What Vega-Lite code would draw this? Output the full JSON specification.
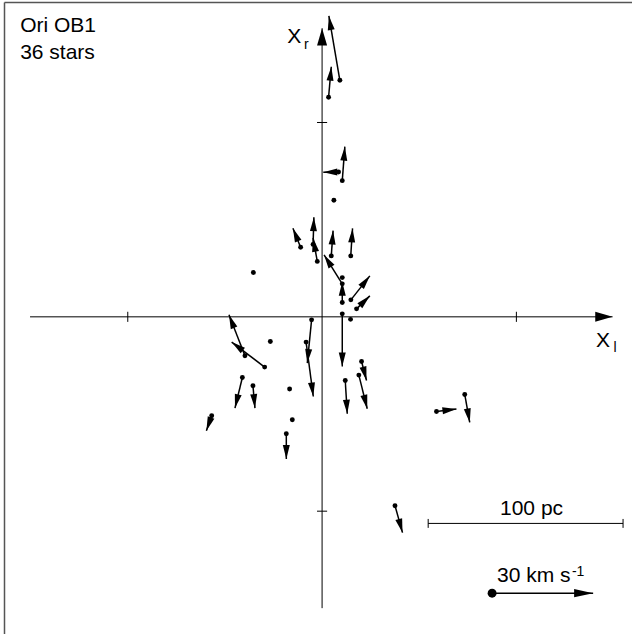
{
  "$schema": "https://vega.github.io/schema/vega-lite/v6.json",
  "width": 628,
  "height": 632,
  "autosize": {"type": "none"},
  "padding": {"left": 4, "top": 2, "right": 0, "bottom": 0},
  "background": "white",
  "config": {"view": {"stroke": null}, "font": "Liberation Sans"},
  "datasets": {
    "stars": [
      {"x": 9.15, "y": 121.7, "ex": 3.5, "ey": 154.8},
      {"x": 3.34, "y": 112.96, "ex": 4.73, "ey": 128.7},
      {"x": 8.48, "y": 74.55, "ex": 0.62, "ey": 74.4},
      {"x": 10.39, "y": 70.08, "ex": 11.72, "ey": 87.56},
      {"x": 6.07, "y": 60.0, "ex": null, "ey": null},
      {"x": -11.05, "y": 35.84, "ex": -15.01, "ey": 45.6},
      {"x": -4.63, "y": 37.28, "ex": -4.22, "ey": 51.26},
      {"x": -2.47, "y": 28.53, "ex": -4.63, "ey": 40.6},
      {"x": 4.73, "y": 31.36, "ex": 5.66, "ey": 44.37},
      {"x": 14.76, "y": 31.36, "ex": 15.68, "ey": 45.5},
      {"x": -35.37, "y": 22.78, "ex": null, "ey": null},
      {"x": 14.81, "y": 8.74, "ex": 24.58, "ey": 21.08},
      {"x": 17.74, "y": 4.11, "ex": 24.58, "ey": 10.8},
      {"x": 14.65, "y": -1.29, "ex": null, "ey": null},
      {"x": -5.4, "y": -1.54, "ex": -7.61, "ey": -23.8},
      {"x": -8.23, "y": -13.0, "ex": -4.52, "ey": -40.98},
      {"x": -16.71, "y": -37.17, "ex": null, "ey": null},
      {"x": -15.32, "y": -52.96, "ex": null, "ey": null},
      {"x": -18.41, "y": -60.15, "ex": -18.41, "ey": -73.16},
      {"x": 20.31, "y": -22.98, "ex": 22.88, "ey": -32.75},
      {"x": 18.92, "y": -29.97, "ex": 23.24, "ey": -47.3},
      {"x": 11.93, "y": -32.75, "ex": 12.96, "ey": -49.87},
      {"x": 10.39, "y": 1.54, "ex": 10.39, "ey": -25.55},
      {"x": -39.69, "y": -20.05, "ex": -47.92, "ey": 1.03},
      {"x": -29.56, "y": -25.86, "ex": -46.53, "ey": -13.0},
      {"x": -26.63, "y": -12.7, "ex": null, "ey": null},
      {"x": -41.03, "y": -31.21, "ex": -44.83, "ey": -46.94},
      {"x": -35.58, "y": -35.48, "ex": -34.55, "ey": -46.94},
      {"x": -56.81, "y": -50.9, "ex": -59.54, "ey": -58.61},
      {"x": 58.87, "y": -48.69, "ex": 69.15, "ey": -47.46},
      {"x": 73.42, "y": -39.95, "ex": 75.99, "ey": -54.34},
      {"x": 37.53, "y": -97.17, "ex": 41.39, "ey": -111.05},
      {"x": 10.39, "y": 16.97, "ex": 1.03, "ey": 31.88},
      {"x": 10.39, "y": 7.35, "ex": 10.39, "ey": 18.0},
      {"x": 10.39, "y": 20.2, "ex": null, "ey": null}
    ],
    "axislines": [
      {"x": -150.3, "y": 0, "ex": 149.5, "ey": 0},
      {"x": 0, "y": -149.9, "ex": 0, "ey": 148.5}
    ],
    "ticks": [
      {"x": -100, "y": -2.6, "ex": -100, "ey": 2.6},
      {"x": 100, "y": -2.6, "ex": 100, "ey": 2.6},
      {"x": -2.6, "y": 100, "ex": 2.6, "ey": 100},
      {"x": -2.6, "y": -100, "ex": 2.6, "ey": -100}
    ],
    "scalebar": [
      {"x": 54.6, "y": -106.3, "ex": 154.9, "ey": -106.3},
      {"x": 54.6, "y": -104.0, "ex": 54.6, "ey": -108.6},
      {"x": 154.9, "y": -104.0, "ex": 154.9, "ey": -108.6}
    ],
    "legend": [
      {"x": 87.5, "y": -142.2, "ex": 139.5, "ey": -142.2}
    ],
    "bigtext": [
      {"label": "Ori OB1", "x": -155.4, "y": 146.6},
      {"label": "36 stars", "x": -155.4, "y": 132.7},
      {"label": "X", "x": -17.9, "y": 140.8},
      {"label": "X", "x": 141.0, "y": -15.5},
      {"label": "30 km s", "x": 90.0, "y": -136.3}
    ],
    "midtext": [
      {"label": "100 pc", "x": 107.8, "y": -102.2}
    ],
    "smalltext": [
      {"label": "r", "x": -9.3, "y": 137.8},
      {"label": "l", "x": 150.0, "y": -18.1},
      {"label": "-1", "x": 128.6, "y": -133.6}
    ]
  },
  "encoding": {
    "x": {"field": "x", "type": "quantitative", "scale": {"domain": [-163.7, 159.5], "nice": false, "zero": false}},
    "y": {"field": "y", "type": "quantitative", "scale": {"domain": [-163.2, 162.0], "nice": false, "zero": false}}
  },
  "layer": [
    {
      "data": {"name": "axislines"},
      "mark": {"type": "rule", "color": "black", "strokeWidth": 1},
      "encoding": {
        "x": {"field": "x", "type": "quantitative", "axis": {"orient": "top", "domain": true, "domainColor": "#555555", "domainWidth": 1.5, "ticks": false, "labels": false, "grid": false, "title": null}},
        "y": {"field": "y", "type": "quantitative", "axis": {"orient": "left", "domain": true, "domainColor": "#555555", "domainWidth": 1.5, "ticks": false, "labels": false, "grid": false, "title": null}},
        "x2": {"field": "ex"},
        "y2": {"field": "ey"}
      }
    },
    {
      "data": {"name": "axislines"},
      "transform": [{"calculate": "atan2(datum.ex - datum.x, datum.ey - datum.y) * 180 / PI", "as": "ang"}],
      "mark": {"type": "point", "shape": "M0,0L0.58,2L-0.58,2Z", "filled": true, "opacity": 1, "color": "black", "size": 300},
      "encoding": {
        "x": {"field": "ex", "type": "quantitative"},
        "y": {"field": "ey", "type": "quantitative"},
        "angle": {"field": "ang", "type": "quantitative", "scale": null}
      }
    },
    {
      "data": {"name": "ticks"},
      "mark": {"type": "rule", "color": "black", "strokeWidth": 1},
      "encoding": {"x2": {"field": "ex"}, "y2": {"field": "ey"}}
    },
    {
      "data": {"name": "stars"},
      "transform": [{"filter": "isValid(datum.ex)"}],
      "mark": {"type": "rule", "color": "black", "strokeWidth": 1.5},
      "encoding": {"x2": {"field": "ex"}, "y2": {"field": "ey"}}
    },
    {
      "data": {"name": "stars"},
      "transform": [
        {"filter": "isValid(datum.ex)"},
        {"calculate": "atan2(datum.ex - datum.x, datum.ey - datum.y) * 180 / PI", "as": "ang"}
      ],
      "mark": {"type": "point", "shape": "M0,0L0.5,2L-0.5,2Z", "filled": true, "opacity": 1, "color": "black", "size": 196},
      "encoding": {
        "x": {"field": "ex", "type": "quantitative"},
        "y": {"field": "ey", "type": "quantitative"},
        "angle": {"field": "ang", "type": "quantitative", "scale": null}
      }
    },
    {
      "data": {"name": "stars"},
      "mark": {"type": "circle", "color": "black", "opacity": 1, "size": 24}
    },
    {
      "data": {"name": "scalebar"},
      "mark": {"type": "rule", "color": "black", "strokeWidth": 1},
      "encoding": {"x2": {"field": "ex"}, "y2": {"field": "ey"}}
    },
    {
      "data": {"name": "legend"},
      "mark": {"type": "rule", "color": "black", "strokeWidth": 1.6},
      "encoding": {"x2": {"field": "ex"}, "y2": {"field": "ey"}}
    },
    {
      "data": {"name": "legend"},
      "transform": [{"calculate": "atan2(datum.ex - datum.x, datum.ey - datum.y) * 180 / PI", "as": "ang"}],
      "mark": {"type": "point", "shape": "M0,0L0.44,2L-0.44,2Z", "filled": true, "opacity": 1, "color": "black", "size": 361},
      "encoding": {
        "x": {"field": "ex", "type": "quantitative"},
        "y": {"field": "ey", "type": "quantitative"},
        "angle": {"field": "ang", "type": "quantitative", "scale": null}
      }
    },
    {
      "data": {"name": "legend"},
      "mark": {"type": "circle", "color": "black", "opacity": 1, "size": 80}
    },
    {
      "data": {"name": "bigtext"},
      "mark": {"type": "text", "align": "left", "baseline": "alphabetic", "fontSize": 21, "font": "Liberation Sans", "color": "black"},
      "encoding": {"text": {"field": "label"}}
    },
    {
      "data": {"name": "midtext"},
      "mark": {"type": "text", "align": "center", "baseline": "alphabetic", "fontSize": 21, "font": "Liberation Sans", "color": "black"},
      "encoding": {"text": {"field": "label"}}
    },
    {
      "data": {"name": "smalltext"},
      "mark": {"type": "text", "align": "left", "baseline": "alphabetic", "fontSize": 14, "font": "Liberation Sans", "color": "black"},
      "encoding": {"text": {"field": "label"}}
    }
  ]
}
